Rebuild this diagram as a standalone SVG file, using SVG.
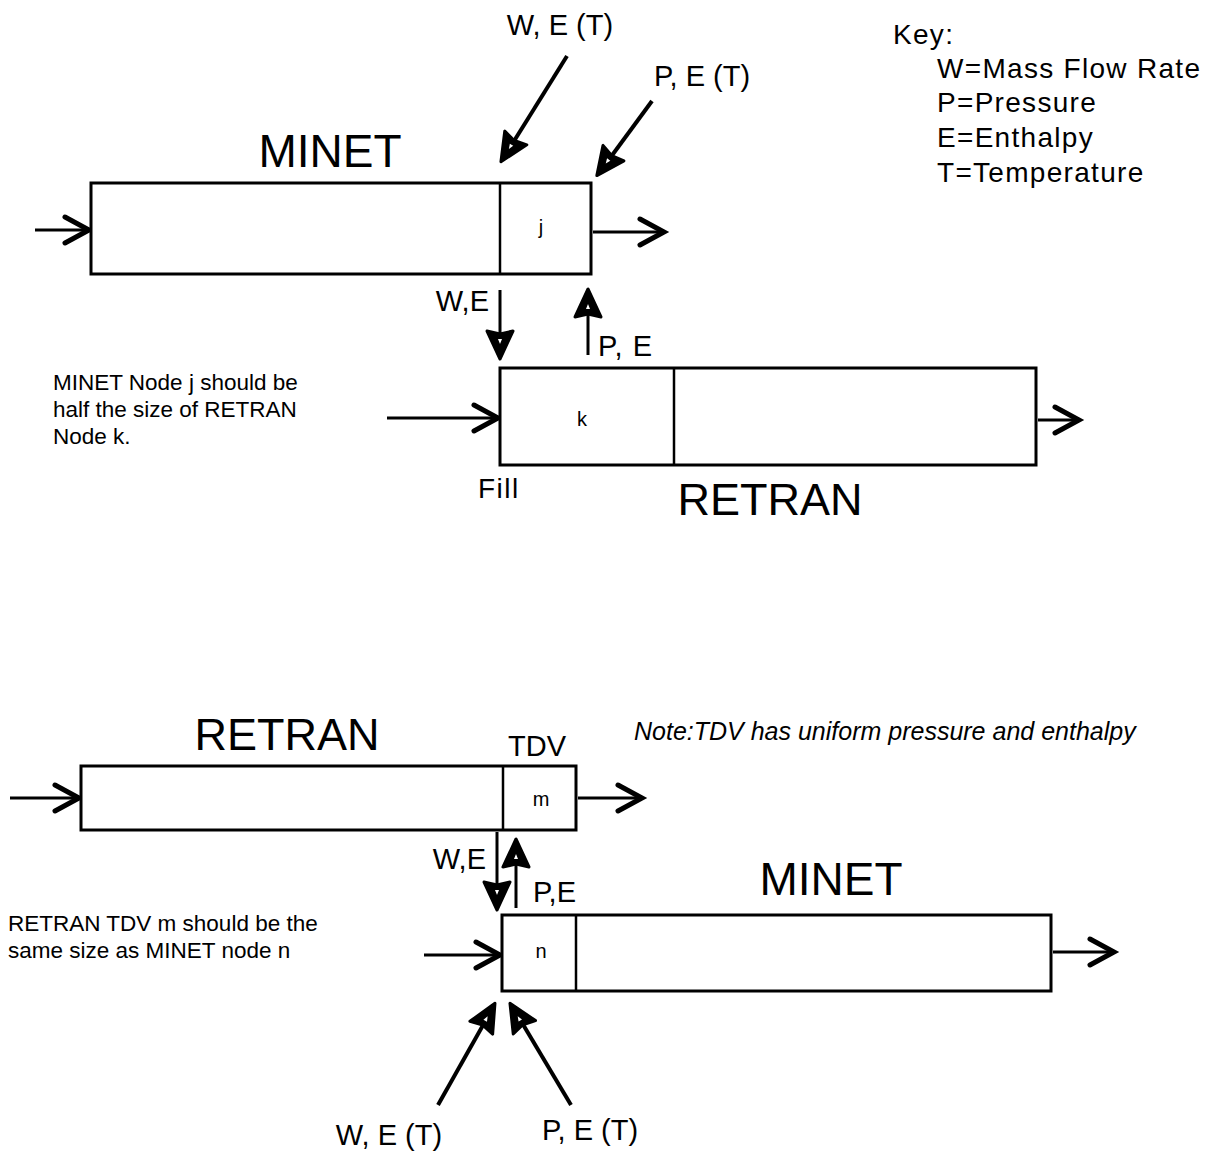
<svg xmlns="http://www.w3.org/2000/svg" width="1218" height="1163" viewBox="0 0 1218 1163">
<style>
.box{fill:#fff;stroke:#000;stroke-width:3}
.div{stroke:#000;stroke-width:2.5}
.t{font-family:"Liberation Sans",Arial,sans-serif;fill:#000}
.big{font-size:46px}
.lab{font-size:29px}
.key{font-size:28px;letter-spacing:1.3px}
.sm{font-size:22.5px}
.cell{font-size:20px}
.c{stroke:#000;stroke-width:3;fill:none}
.w4{stroke-width:4}
.cv{marker-end:url(#chev)}
</style>
<defs>
<marker id="chev" markerUnits="userSpaceOnUse" viewBox="-30 -20 36 40" refX="0" refY="0" markerWidth="36" markerHeight="40" orient="auto" overflow="visible">
<path d="M-24,-13 L0,0 L-24,13" fill="none" stroke="#000" stroke-width="5" stroke-linejoin="miter" stroke-linecap="round"/>
</marker>
<g id="ah">
<path d="M2,0 L-26,-13 L-23,0 L-26,13 Z" fill="#000" stroke="#000" stroke-width="3" stroke-linejoin="round"/>
<path d="M-13,0 L-18,-2 L-18,2 Z" fill="#fff"/>
</g>
</defs>

<g id="connectors">
<line class="c cv" x1="35" y1="230" x2="89" y2="230"/>
<line class="c cv" x1="593" y1="232" x2="664" y2="232"/>
<line class="c w4" x1="567" y1="56" x2="506" y2="154"/>
<use href="#ah" transform="translate(502,160) rotate(122)"/>
<line class="c w4" x1="652" y1="101" x2="602" y2="169"/>
<use href="#ah" transform="translate(598,174) rotate(126.5)"/>
<line class="c" x1="500" y1="290" x2="500" y2="350"/>
<use href="#ah" transform="translate(500,357) rotate(90)"/>
<line class="c" x1="588" y1="355" x2="588" y2="298"/>
<use href="#ah" transform="translate(588,291) rotate(-90)"/>
<line class="c cv" x1="387" y1="418" x2="498" y2="418"/>
<line class="c cv" x1="1038" y1="420" x2="1079" y2="420"/>
<line class="c cv" x1="10" y1="798" x2="79" y2="798"/>
<line class="c cv" x1="578" y1="798" x2="642" y2="798"/>
<line class="c" x1="497" y1="832" x2="497" y2="901"/>
<use href="#ah" transform="translate(497,908) rotate(90)"/>
<line class="c" x1="516" y1="908" x2="516" y2="848"/>
<use href="#ah" transform="translate(516,841) rotate(-90)"/>
<line class="c cv" x1="424" y1="955" x2="500" y2="955"/>
<line class="c cv" x1="1053" y1="952" x2="1114" y2="952"/>
<line class="c w4" x1="438" y1="1105" x2="491" y2="1011"/>
<use href="#ah" transform="translate(494,1005) rotate(-60.75)"/>
<line class="c w4" x1="571" y1="1105" x2="515" y2="1011"/>
<use href="#ah" transform="translate(511,1005) rotate(-121)"/>
</g>

<g id="minet-top">
<rect class="box" x="91" y="183" width="500" height="91"/>
<line class="div" x1="500" y1="183" x2="500" y2="274"/>
<text class="t cell" x="541" y="234" text-anchor="middle">j</text>
<text class="t big" x="330" y="167" text-anchor="middle">MINET</text>
</g>

<g id="retran-top">
<rect class="box" x="500" y="368" width="536" height="97"/>
<line class="div" x1="674" y1="368" x2="674" y2="465"/>
<text class="t cell" x="582" y="426" text-anchor="middle">k</text>
<text class="t big" x="770" y="515" text-anchor="middle" style="font-size:45px">RETRAN</text>
<text class="t" x="478" y="498" style="font-size:28px;letter-spacing:1.5px">Fill</text>
</g>

<g id="labels-top">
<text class="t lab" x="560" y="35" text-anchor="middle">W, E (T)</text>
<text class="t lab" x="702" y="86" text-anchor="middle">P, E (T)</text>
<text class="t lab" x="489" y="311" text-anchor="end">W,E</text>
<text class="t lab" x="598" y="356" style="letter-spacing:1px">P, E</text>
<text class="t sm" x="53" y="390">MINET Node j should be</text>
<text class="t sm" x="53" y="417">half the size of RETRAN</text>
<text class="t sm" x="53" y="444">Node k.</text>
</g>

<g id="key">
<text class="t key" x="893" y="44">Key:</text>
<text class="t key" x="937" y="78">W=Mass Flow Rate</text>
<text class="t key" x="937" y="112">P=Pressure</text>
<text class="t key" x="937" y="147">E=Enthalpy</text>
<text class="t key" x="937" y="182">T=Temperature</text>
</g>

<g id="retran-bottom">
<rect class="box" x="81" y="766" width="495" height="64"/>
<line class="div" x1="503" y1="766" x2="503" y2="830"/>
<text class="t cell" x="541" y="806" text-anchor="middle">m</text>
<text class="t big" x="287" y="750" text-anchor="middle" style="font-size:45px">RETRAN</text>
<text class="t lab" x="537" y="756" text-anchor="middle">TDV</text>
</g>

<g id="minet-bottom">
<rect class="box" x="502" y="915" width="549" height="76"/>
<line class="div" x1="576" y1="915" x2="576" y2="991"/>
<text class="t cell" x="541" y="958" text-anchor="middle">n</text>
<text class="t big" x="831" y="895" text-anchor="middle">MINET</text>
</g>

<g id="labels-bottom">
<text class="t" x="634" y="740" style="font-size:25px;font-style:italic">Note:TDV has uniform pressure and enthalpy</text>
<text class="t lab" x="486" y="869" text-anchor="end">W,E</text>
<text class="t lab" x="533" y="902">P,E</text>
<text class="t sm" x="8" y="931">RETRAN TDV m should be the</text>
<text class="t sm" x="8" y="958">same size as MINET node n</text>
<text class="t lab" x="389" y="1145" text-anchor="middle">W, E (T)</text>
<text class="t lab" x="590" y="1140" text-anchor="middle">P, E (T)</text>
</g>
</svg>
